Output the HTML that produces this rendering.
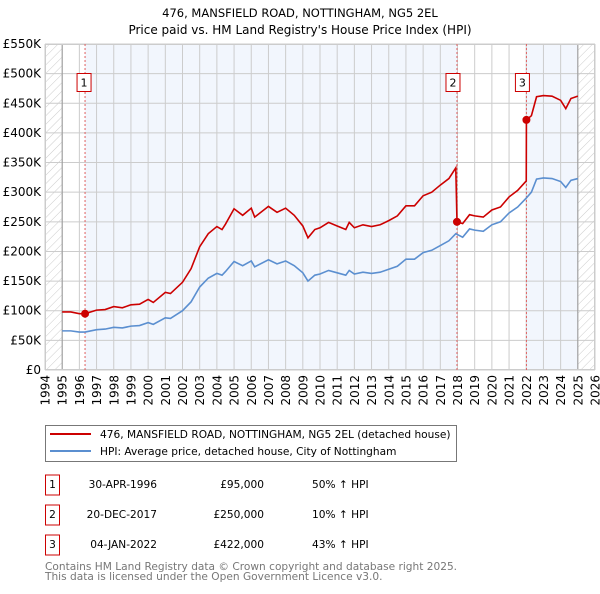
<!DOCTYPE html>
<html><head><meta charset="utf-8"><style>
body{margin:0;background:#fff;width:600px;height:590px;overflow:hidden;font-family:"DejaVu Sans","Liberation Sans",sans-serif;}
svg text{font-family:"DejaVu Sans","Liberation Sans",sans-serif;}
</style></head><body>
<svg id="chart" width="600" height="590" xmlns="http://www.w3.org/2000/svg">
<defs><pattern id="hatch" width="6" height="6" patternUnits="userSpaceOnUse" patternTransform="rotate(45)"><line x1="0" y1="0" x2="0" y2="6" stroke="#ccc" stroke-width="1"/></pattern></defs>
<text x="300" y="17" text-anchor="middle" font-size="11.5">476, MANSFIELD ROAD, NOTTINGHAM, NG5 2EL</text>
<text x="300" y="34" text-anchor="middle" font-size="12">Price paid vs. HM Land Registry's House Price Index (HPI)</text>
<g id="plot"></g>
<g>
<rect x="45.5" y="425.5" width="411" height="36" fill="#fff" stroke="#777"/>
<line x1="50" y1="434" x2="91" y2="434" stroke="#cc0000" stroke-width="2"/>
<text x="100" y="438" font-size="10.6">476, MANSFIELD ROAD, NOTTINGHAM, NG5 2EL (detached house)</text>
<line x1="50" y1="451" x2="91" y2="451" stroke="#5b8fd0" stroke-width="2"/>
<text x="100" y="455" font-size="10.6">HPI: Average price, detached house, City of Nottingham</text>
</g>
<g id="table" font-size="10.6"></g>
<text x="45" y="570" font-size="10.6" fill="#777">Contains HM Land Registry data © Crown copyright and database right 2025.</text>
<text x="45" y="580" font-size="10.6" fill="#777">This data is licensed under the Open Government Licence v3.0.</text>
</svg>
<script>
const hpiYears=[1995.0,1995.5,1996.0,1996.33,1997.0,1997.5,1998.0,1998.5,1999.0,1999.5,2000.0,2000.3,2001.0,2001.3,2002.0,2002.5,2003.0,2003.5,2004.0,2004.3,2004.5,2005.0,2005.5,2006.0,2006.2,2007.0,2007.5,2008.0,2008.5,2009.0,2009.3,2009.7,2010.0,2010.5,2011.0,2011.5,2011.7,2012.0,2012.5,2013.0,2013.5,2014.0,2014.5,2015.0,2015.5,2016.0,2016.5,2017.0,2017.5,2017.9,2018.3,2018.7,2019.0,2019.5,2020.0,2020.5,2021.0,2021.5,2022.0,2022.3,2022.6,2023.0,2023.5,2024.0,2024.3,2024.6,2025.0];
const hpiValues=[66,66,64,64,68,69,72,71,74,75,80,77,88,87,100,115,140,155,163,160,166,183,176,184,174,186,179,184,176,164,150,160,162,168,164,160,168,162,165,163,165,170,175,187,187,198,202,210,218,230,224,238,236,234,245,250,265,275,290,300,322,324,323,318,308,320,323];
const priceYears=[1995.0,1995.5,1996.0,1996.33,1997.0,1997.5,1998.0,1998.5,1999.0,1999.5,2000.0,2000.3,2001.0,2001.3,2002.0,2002.5,2003.0,2003.5,2004.0,2004.3,2004.5,2005.0,2005.5,2006.0,2006.2,2007.0,2007.5,2008.0,2008.5,2009.0,2009.3,2009.7,2010.0,2010.5,2011.0,2011.5,2011.7,2012.0,2012.5,2013.0,2013.5,2014.0,2014.5,2015.0,2015.5,2016.0,2016.5,2017.0,2017.5,2017.9,2017.97,2018.3,2018.7,2019.0,2019.5,2020.0,2020.5,2021.0,2021.5,2022.0,2022.01,2022.3,2022.6,2023.0,2023.5,2024.0,2024.3,2024.6,2025.0];
const priceValues=[98,98,95,95,101,102,107,105,110,111,119,114,131,129,148,171,208,230,242,237,246,272,261,273,258,276,266,273,261,243,223,237,240,249,243,237,249,240,245,242,245,252,260,277,277,294,300,312,323,341,250,247,262,260,258,270,275,292,303,319,422,429,461,463,462,455,441,458,462];
const saleLabels=["1","2","3"];
const saleYears=[1996.33,2017.97,2022.01];
const saleValues=[95,250,422];
const saleDates=["30-APR-1996","20-DEC-2017","04-JAN-2022"];
const salePrices=["£95,000","£250,000","£422,000"];
const salePct=["50% ↑ HPI","10% ↑ HPI","43% ↑ HPI"];
const yTicks=[0,50,100,150,200,250,300,350,400,450,500,550];
const yTickLabels=["£0","£50K","£100K","£150K","£200K","£250K","£300K","£350K","£400K","£450K","£500K","£550K"];
const xTicks=[1994,1995,1996,1997,1998,1999,2000,2001,2002,2003,2004,2005,2006,2007,2008,2009,2010,2011,2012,2013,2014,2015,2016,2017,2018,2019,2020,2021,2022,2023,2024,2025,2026];

const NS="http://www.w3.org/2000/svg";
const L=45,R=595,T=44,B=370;
const xs=y=>L+(y-1994)/32*(R-L);
const ys=v=>B-v/550*(B-T);
function mk(tag,attrs,parent){const e=document.createElementNS(NS,tag);for(const k in attrs)e.setAttribute(k,attrs[k]);parent.appendChild(e);return e;}
const g=document.getElementById('plot');
let e;
e=mk('rect',{x:L,y:T,width:R-L,height:B-T,fill:'#fff'},g);


e=mk('rect',{x:L,y:T,width:xs(1995)-L,height:B-T,fill:'url(#hatch)'},g);


e=mk('rect',{x:xs(2025),y:T,width:R-xs(2025),height:B-T,fill:'url(#hatch)'},g);


e=mk('rect',{x:xs(saleYears[0]),y:T,width:xs(saleYears[1])-xs(saleYears[0]),height:B-T,fill:'#eef3fc',opacity:0.75},g);


e=mk('rect',{x:xs(saleYears[2]),y:T,width:xs(2025)-xs(saleYears[2]),height:B-T,fill:'#eef3fc',opacity:0.75},g);


yTicks.forEach((v,i)=>{
  e=mk('line',{x1:L,x2:R,y1:ys(v),y2:ys(v),stroke:'#ccc','stroke-width':1},g);
  
  
  e=mk('text',{x:L-4,y:ys(v)+4,'text-anchor':'end','font-size':12},g);
  e.textContent=yTickLabels[i];
  
  
});
xTicks.forEach(y=>{
  e=mk('line',{x1:xs(y),x2:xs(y),y1:T,y2:B,stroke:'#ccc','stroke-width':1},g);
  
  
  e=mk('text',{x:0,y:0,'text-anchor':'end','font-size':12,transform:`translate(${xs(y)+4.5},${B+5}) rotate(-90)`},g);
  e.textContent=y;
  
  
});
e=mk('line',{x1:xs(1995),x2:xs(1995),y1:T,y2:B,stroke:'#999','stroke-width':1},g);


e=mk('line',{x1:xs(2025),x2:xs(2025),y1:T,y2:B,stroke:'#999','stroke-width':1},g);


e=mk('rect',{x:L+0.5,y:T+0.5,width:R-L-1,height:B-T-1,fill:'none',stroke:'#ccc'},g);


saleYears.forEach((y,i)=>{
  e=mk('line',{x1:xs(y),x2:xs(y),y1:T,y2:B,stroke:'#e06060','stroke-width':1,'stroke-dasharray':'2,2'},g);
  
  
});
e=mk('polyline',{points:hpiYears.map((y,i)=>xs(y)+','+ys(hpiValues[i])).join(' '),fill:'none',stroke:'#5b8fd0','stroke-width':1.6},g);


e=mk('polyline',{points:priceYears.map((y,i)=>xs(y)+','+ys(priceValues[i])).join(' '),fill:'none',stroke:'#cc0000','stroke-width':1.6},g);


saleYears.forEach((y,i)=>{
  e=mk('circle',{cx:xs(y),cy:ys(saleValues[i]),r:4,fill:'#cc0000'},g);
  
  
  const bx=xs(y)-7-(i===0?1:4);
  e=mk('rect',{x:bx,y:73.5,width:14,height:18,fill:'#fff',stroke:'#cc0000'},g);
  
  
  e=mk('text',{x:bx+7,y:86.5,'text-anchor':'middle','font-size':11},g);
  e.textContent=saleLabels[i];
  
  
});
const tb=document.getElementById('table');
saleLabels.forEach((s,i)=>{
  const cy=485+i*30;
  e=mk('rect',{x:45.5,y:cy-10,width:14,height:20,fill:'#fff',stroke:'#cc0000'},tb);
  
  
  e=mk('text',{x:52.5,y:cy+3,'text-anchor':'middle'},tb);e.textContent=s;
  
  
  e=mk('text',{x:157,y:cy+3,'text-anchor':'end'},tb);e.textContent=saleDates[i];
  
  
  e=mk('text',{x:264,y:cy+3,'text-anchor':'end'},tb);e.textContent=salePrices[i];
  
  
  e=mk('text',{x:312,y:cy+3},tb);e.textContent=salePct[i];
  
  
});
</script>
</body></html>
